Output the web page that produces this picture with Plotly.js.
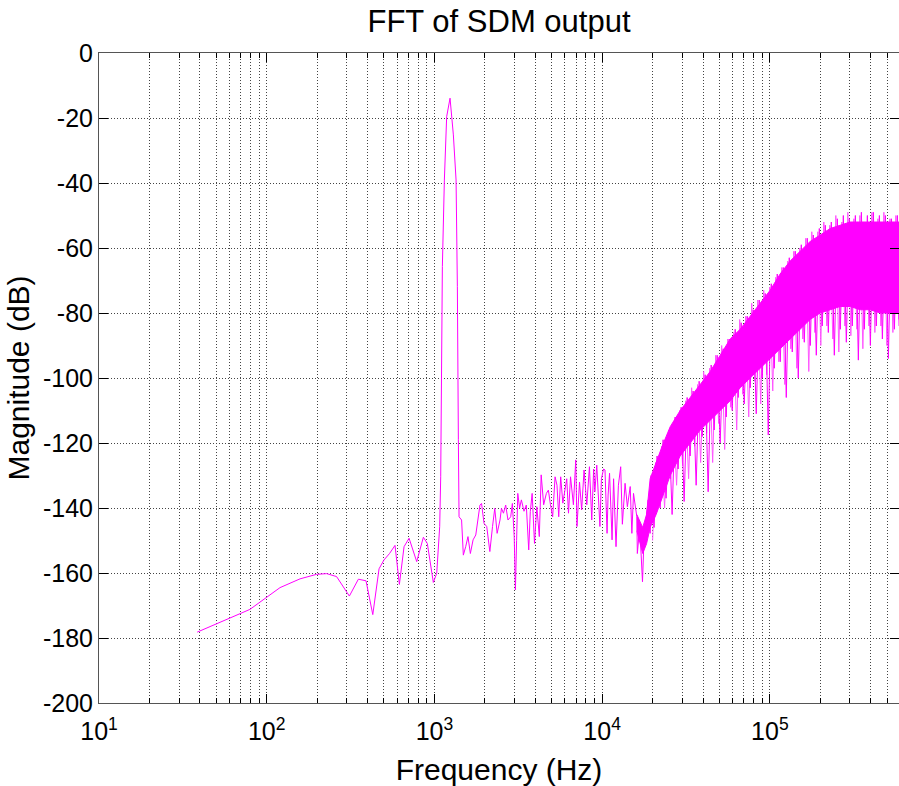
<!DOCTYPE html>
<html><head><meta charset="utf-8">
<script src="https://cdn.plot.ly/plotly-3.0.1.min.js"></script>
<style>html,body{margin:0;padding:0;background:#fff;}#chart{width:899px;height:786px;}</style>
</head><body><div id="chart"></div>
<script>
// Low-frequency part and the signal tone (Hz, dB)
const lowFreq = [38.5,79.4,120,158,198.6,228,261,311,352,391,429,467.6,500,540,582,618,659,706,784,859,907,985,1032,1075,1090,1106,1115,1146,1183,1239,1297,1346,1370,1389,1402];
const lowDb = [-178.2,-171.2,-164.5,-161.8,-160.4,-160.2,-161.1,-167.1,-161.9,-162.4,-172.8,-158.7,-156,-154,-151.5,-163.5,-151.9,-149.3,-156.5,-149,-150.9,-162.9,-160.1,-145.7,-130.4,-98.6,-65.7,-39.1,-19.6,-13.9,-25.2,-39.1,-71.9,-119,-142.7];

// In-band noise floor (Hz, dB)
const midFreq = [1452,1487,1536,1585,1638,1700,1764,1820,1868,1910,1975,2050,2140,2220,2290,2365,2460,2510,2580,2660,2745,2850,2915,2990,3040,3090,3140,3220,3300,3420,3530,3650,3730,3825,3950,4080,4220,4330,4480,4650,4780,4920,5070,5240,5380,5510,5660,5830,6000,6150,6300,6480,6740,6960,7080,7330,7550,7800,8100,8400,8670,8900,9050,9290,9700,9900,10200,10400,10700,10850,11070,11460,11700,12100,12500,12900,13200,13700,14140,14700,15040,15380,16100,16210,16750,17150,17400,17760,18400,18820,19330];
const midDb = [-143.7,-154.5,-151.9,-148.8,-154,-149.8,-148.3,-143.7,-139.1,-138.6,-144.7,-145.7,-153.4,-145.7,-140.1,-147.8,-143.7,-140.1,-141.6,-139.1,-143.7,-142.7,-138.6,-148.8,-165.2,-150,-135.5,-140,-137.5,-141,-139.1,-152.9,-141.1,-135.5,-150.9,-139.6,-148.8,-129.8,-139,-135.5,-134.5,-139,-142.7,-130.4,-133,-142.7,-130.4,-138.5,-134.5,-131,-141.6,-130.4,-139,-125.2,-145.7,-132,-140.6,-128.3,-139,-127.3,-143.7,-128,-135,-126.8,-145.7,-131,-128,-128.3,-147.8,-136,-129.3,-149.8,-131,-151.9,-133,-127.3,-145,-132.4,-139.6,-133.4,-147.8,-135.5,-142.7,-154,-145.7,-157,-162.7,-149.8,-141.6,-137.5,-147.8];

// Shaped quantisation noise: spike tips (Hz, dB)
const highFreq = [19580,20400,21260,22160,23090,24060,25080,26130,27230,28380,29580,30820,32120,33470,34880,36350,37880,39480,41140,42870,44680,46560,48520,50560,52690,54910,57220,59630,62140,64760,67480,70330,73290,76370,79590,82940,86430,90070,93860,97810,101930,106220,110690,115350,120210,125270,130540,136040,141760,147730,153950,160430,167190,174220,181560,189200,197160,205460,214110,223130,232520,242310,252510,263140,274220,285760,297790,310330,323400,337010,351200,365980,381390,397450,414180,431610,449780,468720,488450,509010,530440,552770,576040,588800];
const highDb = [-130,-146,-124,-140,-119,-137,-116,-142,-112,-128,-109,-138,-106,-124,-104,-133,-101,-118,-99,-135,-96,-116,-93,-120,-91,-112,-88,-110,-85,-106,-83,-108,-81,-103,-79,-111,-76,-100,-74,-117.5,-71,-97,-68,-95,-66,-106,-63,-92,-61,-100,-59,-89,-57,-90,-56,-93,-54,-84,-53,-86,-52,-93,-51,-85,-50,-89,-51,-84,-50,-94.5,-49,-85,-50,-90,-49,-84,-50,-88,-50,-94,-51,-85,-50,-82];

// Interleaved spike tips of the same band (Hz, dB)
const highFreq2 = [19990,20820,21700,22620,23570,24560,25600,26670,27790,28970,30190,31460,32780,34160,35600,37100,38660,40300,41990,43760,45600,47520,49520,51610,53780,56050,58400,60860,63430,66100,68880,71790,74810,77950,81240,84660,88220,91930,95800,99830,104040,108420,112980,117740,122700,127860,133240,138860,144700,150790,157140,163750,170650,177830,185320,193120,201240,209710,218540,227750,237330,247330,257740,268590,279900,291680,303950,316750,330090,343990,358470,373560,389290,405680,422750,440550,459090,478420,498560,519550,541420,564210,587960];
const highDb2 = [-150,-126,-138,-121,-140,-117,-131,-114,-133,-110,-127,-107,-131,-103,-121,-102,-126,-98,-117,-97,-126,-93,-114,-90,-122,-88,-109,-86,-116,-82,-105,-81,-112,-77,-101,-76,-108,-73,-99,-72,-104,-69,-95,-66,-102,-64,-91,-61,-97,-60,-88,-57,-98,-55,-86,-55,-90,-52,-84,-53,-88,-50,-92,-52,-84,-49,-87,-51,-85,-50,-91,-52,-84,-49,-86,-51,-84,-49,-90,-51,-86,-50,-84];

// Dense core of the noise band (Hz, upper dB, lower dB)
const bandFreq = [16100,17450,18400,19330,20990,22790,25450,29190,33500,38440,44070,50580,57990,66540,76350,87520,100400,115100,132100,151600,173800,199500,229100,262400,301300,345900,396300,455000,522400,588800];
const bandTop = [-142,-146,-142,-131,-126,-121,-115,-110,-106,-102,-98,-93,-88,-85,-81,-77,-73,-68,-64,-61,-58,-56,-54,-53,-52,-52,-52,-52,-52,-52];
const bandBottom = [-147,-154,-151,-146,-142,-137,-130,-124,-120,-116,-113,-110,-107,-103,-100,-97,-94,-91,-88,-85,-82,-80,-79,-78,-78,-79,-79,-80,-80,-80];

// Axes ticks
const xTickVals = [10,100,1000,10000,100000];
const xTickText = ['10<sup>1</sup>','10<sup>2</sup>','10<sup>3</sup>','10<sup>4</sup>','10<sup>5</sup>'];
const xMinorVals = [20,30,40,50,60,70,80,90,200,300,400,500,600,700,800,900,2000,3000,4000,5000,6000,7000,8000,9000,20000,30000,40000,50000,60000,70000,80000,90000,200000,300000,400000,500000];
const yTickVals = [0,-20,-40,-60,-80,-100,-120,-140,-160,-180,-200];
const yTickText = ['0','-20','-40','-60','-80','-100','-120','-140','-160','-180','-200'];

const MAG = '#ff00ff';
const lineX = lowFreq.concat(midFreq, highFreq);
const lineY = lowDb.concat(midDb, highDb);
const polyX = bandFreq.concat(bandFreq.slice().reverse());
const polyY = bandTop.concat(bandBottom.slice().reverse());

const traces = [
  {type:'scatter', mode:'lines', x: highFreq2, y: highDb2, line:{color: '#ff55ff', width: 1}},
  {type:'scatter', mode:'lines', x: polyX, y: polyY, fill:'toself', fillcolor: MAG,
   line:{color: MAG, width: 1}, hoverinfo:'skip'},
  {type:'scatter', mode:'lines', x: lineX, y: lineY, line:{color: MAG, width: 1}}
];

const gridC = '#444';
const layout = {
  width: 899, height: 786,
  margin: {l: 99, r: 0, t: 53, b: 83},
  paper_bgcolor: '#fff', plot_bgcolor: '#fff',
  showlegend: false,
  font: {family: 'Liberation Sans, Arial, sans-serif', color: '#000', size: 25},
  title: {text: 'FFT of SDM output', font: {size: 31, color:'#000'}, x: 0.5, xref: 'paper',
          y: 0.9733, yref: 'container', yanchor: 'middle'},
  xaxis: {
    type: 'log', range: [1, 5.77], autorange: false,
    tickmode: 'array', tickvals: xTickVals, ticktext: xTickText,
    ticks: 'inside', ticklen: 9, tickwidth: 1, tickcolor: '#000',
    showline: true, linecolor: '#555', linewidth: 1, mirror: 'ticks',
    showgrid: true, gridcolor: gridC, griddash: '1px,2px', gridwidth: 1,
    zeroline: false,
    minor: {tickmode: 'array', tickvals: xMinorVals, ticks: 'inside', ticklen: 5, tickcolor: '#000',
            showgrid: true, gridcolor: gridC, griddash: '1px,2px', gridwidth: 1},
    tickfont: {size: 25}, ticklabelstandoff: 6,
    title: {text: 'Frequency (Hz)', font: {size: 30}}
  },
  yaxis: {
    range: [-200, 0], autorange: false,
    tickmode: 'array', tickvals: yTickVals, ticktext: yTickText,
    ticks: 'inside', ticklen: 9, tickwidth: 1, tickcolor: '#000',
    showline: true, linecolor: '#555', linewidth: 1, mirror: 'ticks',
    showgrid: true, gridcolor: gridC, griddash: '1px,2px', gridwidth: 1,
    zeroline: false,
    tickfont: {size: 25},
    title: {text: 'Magnitude (dB)', font: {size: 30}}
  }
};

Plotly.newPlot('chart', traces, layout, {staticPlot: true, displayModeBar: false});
</script>
</body></html>
